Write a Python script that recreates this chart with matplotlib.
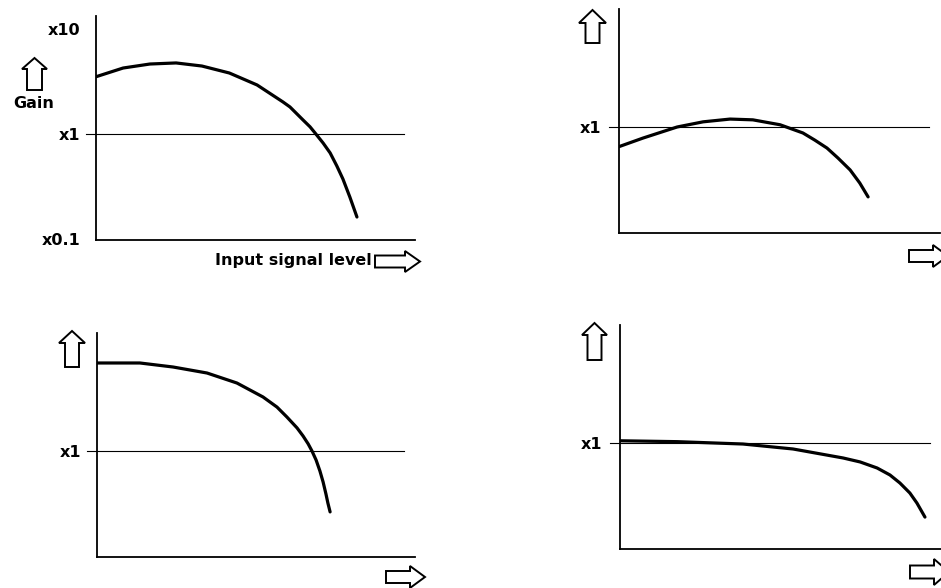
import matplotlib
matplotlib.use("Agg")
import matplotlib.pyplot as plt
import matplotlib.patches as patches

# gain vs input level for four amplifier types (input level in arbitrary units 0..10)
level_a = [0, 0.85, 1.69, 2.51, 3.32, 4.18, 5.05, 5.86, 6.08, 6.49, 6.71, 6.87, 7.12,
           7.34, 7.55, 7.74, 7.96, 8.18]
gain_a = [3.51, 4.25, 4.64, 4.75, 4.44, 3.81, 2.93, 2.02, 1.81, 1.36, 1.17, 1.02, 0.82,
          0.66, 0.496, 0.373, 0.25, 0.162]

level_b = [0, 0.75, 1.81, 2.62, 3.46, 4.17, 5.02, 5.73, 6.1, 6.48, 6.82, 7.20, 7.5, 7.76]
gain_b = [0.65, 0.785, 1.0, 1.12, 1.19, 1.17, 1.05, 0.877, 0.75, 0.63, 0.507, 0.39,
          0.293, 0.216]

level_c = [0, 1.35, 2.39, 3.46, 4.40, 5.22, 5.66, 5.97, 6.29, 6.48, 6.64, 6.76, 6.89,
           7.01, 7.11, 7.20, 7.26, 7.33]
gain_c = [6.89, 6.89, 6.31, 5.53, 4.44, 3.27, 2.62, 2.11, 1.66, 1.39, 1.17, 1.0, 0.82,
          0.645, 0.507, 0.389, 0.32, 0.263]

level_d = [0, 1.78, 3.83, 5.39, 6.95, 7.48, 8.01, 8.41, 8.72, 9.03, 9.25, 9.50]
gain_d = [1.05, 1.03, 0.978, 0.877, 0.72, 0.66, 0.578, 0.496, 0.416, 0.334, 0.268, 0.197]

gain_ticks_full = [0.1, 1, 10]
gain_labels_full = ["x0.1", "x1", "x10"]
gain_ticks_short = [1]
gain_labels_short = ["x1"]

W, H = 941, 588
DEC = 105.0  # pixels per decade
LOG_TOP, LOG_BOT = 1.12, -1.01
FS = 11.5

plt.rcParams['font.family'] = ['DejaVu Sans']
fig = plt.figure(figsize=(W / 100, H / 100), dpi=100)


def panel(left, unity_y, width, xs, ys, ticks, labels, pad):
    top = unity_y - LOG_TOP * DEC
    height = (LOG_TOP - LOG_BOT) * DEC
    ax = fig.add_axes([left / W, 1 - (top + height) / H, width / W, height / H])
    ax.set_yscale('log')
    ax.set_ylim(10 ** LOG_BOT, 10 ** LOG_TOP)
    ax.set_xlim(0, 10)
    for s in ['top', 'right']:
        ax.spines[s].set_visible(False)
    for s in ['left', 'bottom']:
        ax.spines[s].set_linewidth(1.3)
    ax.set_xticks([])
    ax.set_yticks(ticks)
    ax.set_yticklabels(labels, fontsize=FS, fontweight='bold')
    ax.yaxis.set_minor_locator(matplotlib.ticker.NullLocator())
    ax.tick_params(axis='y', length=0, pad=pad)
    # unity gain reference line, poking out a little past the axis
    ax.plot([-0.03, 0.965], [1, 1], transform=ax.get_yaxis_transform(),
            color='black', lw=0.8, clip_on=False)
    ax.plot(xs, ys, color='black', lw=2.3, solid_capstyle='round',
            solid_joinstyle='round')
    return ax


panel(96, 134, 319, level_a, gain_a, gain_ticks_full, gain_labels_full, 11)
panel(619, 127, 321, level_b, gain_b, gain_ticks_short, gain_labels_short, 13)
panel(97, 451, 318, level_c, gain_c, gain_ticks_short, gain_labels_short, 11)
panel(620, 443, 321, level_d, gain_d, gain_ticks_short, gain_labels_short, 13)

# overlay in pixel coordinates for the hollow arrows and captions
ov = fig.add_axes([0, 0, 1, 1], facecolor='none')
ov.set_xlim(0, W)
ov.set_ylim(H, 0)
ov.axis('off')


def up_arrow(x0, x1, y0, y1, head, shaft):
    cx = (x0 + x1) / 2
    pts = [(cx, y0), (x1, y0 + head), (cx + shaft / 2, y0 + head), (cx + shaft / 2, y1),
           (cx - shaft / 2, y1), (cx - shaft / 2, y0 + head), (x0, y0 + head)]
    ov.add_patch(patches.Polygon(pts, closed=True, fill=False, ec='black', lw=1.4,
                                 joinstyle='miter', clip_on=False))


def right_arrow(x0, x1, y0, y1, head, shaft):
    cy = (y0 + y1) / 2
    pts = [(x1, cy), (x1 - head, y0), (x1 - head, cy - shaft / 2), (x0, cy - shaft / 2),
           (x0, cy + shaft / 2), (x1 - head, cy + shaft / 2), (x1 - head, y1)]
    ov.add_patch(patches.Polygon(pts, closed=True, fill=False, ec='black', lw=1.4,
                                 joinstyle='miter', clip_on=False))


up_arrow(22, 47, 58, 90, 11, 15)
up_arrow(579, 606, 10, 43, 13, 14)
up_arrow(59, 85, 331, 367, 12, 14)
up_arrow(582, 607, 323, 360, 12, 14)

right_arrow(375, 420, 251, 272, 15, 12)
right_arrow(909, 948, 245, 267, 15, 12)
right_arrow(386, 425, 566, 588, 15, 12)
right_arrow(910, 949, 559, 585, 15, 13)

ov.text(34, 104, "Gain", ha='center', va='center', fontsize=FS, fontweight='bold')
ov.text(372, 260, "Input signal level", ha='right', va='center', fontsize=FS,
        fontweight='bold')

fig.savefig("out.png", dpi=100, facecolor='white')
